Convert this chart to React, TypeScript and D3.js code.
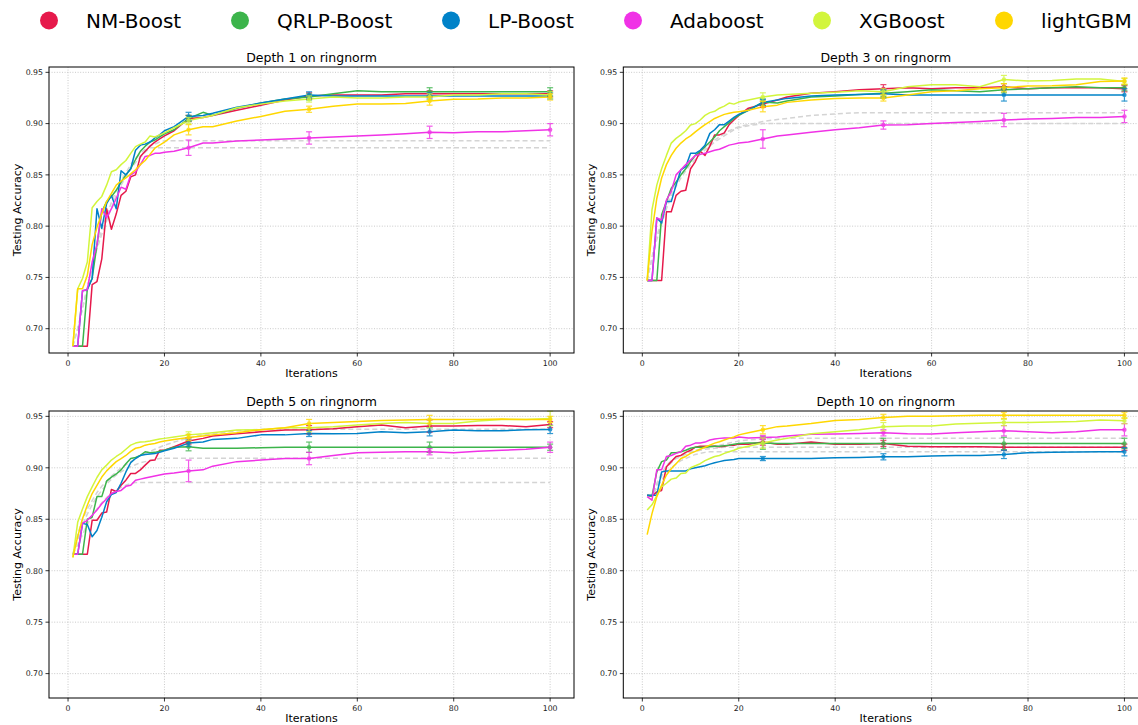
import React from 'react';
import * as d3 from 'd3';

const W = 1138;
const H = 725;
const FONT = 'DejaVu Sans, Verdana, sans-serif';

const METHODS = ['NM-Boost', 'QRLP-Boost', 'LP-Boost', 'Adaboost', 'XGBoost', 'lightGBM'];
const COLORS = ['#e6194b', '#3cb44b', '#0082c8', '#f032e6', '#d2f53c', '#ffd700'];
const LEGEND_X = [49, 240, 451, 633, 822, 1004];

const X_TICKS = [0, 20, 40, 60, 80, 100];
const Y_TICKS = [0.7, 0.75, 0.8, 0.85, 0.9, 0.95];
const ERR_X = [25, 50, 75, 100];

const ITERS = [1, 2, 3, 4, 5, 6, 7, 8, 9, 10, 11, 12, 13, 14, 15, 16, 17, 18, 19, 20, 22, 25, 28, 30, 35, 40, 45, 50, 55, 60, 65, 70, 75, 80, 85, 90, 95, 100];

// ---- Depth 1 ----
const NM1 = [.683, .683, .683, .683, .743, .746, .768, .817, .797, .812, .830, .834, .848, .850, .868, .873, .878, .882, .885, .888, .893, .905, .906, .908, .913, .918, .923, .927, .928, .928, .928, .929, .929, .929, .929, .929, .929, .929];
const QR1 = [.683, .683, .683, .739, .749, .782, .814, .824, .829, .835, .843, .850, .856, .865, .873, .878, .882, .884, .887, .890, .894, .905, .911, .908, .915, .920, .924, .926, .929, .932, .931, .931, .931, .931, .931, .931, .931, .931];
const LP1 = [.683, .683, .737, .738, .749, .817, .798, .822, .830, .817, .854, .850, .856, .874, .879, .880, .882, .886, .889, .893, .897, .907, .908, .910, .916, .920, .924, .928, .927, .927, .927, .927, .927, .927, .927, .927, .927, .927];
const AD1 = [.683, .683, .737, .738, .765, .782, .817, .808, .817, .827, .838, .836, .850, .853, .860, .868, .869, .871, .871, .872, .873, .8765, .881, .881, .883, .884, .885, .886, .887, .888, .889, .890, .8915, .891, .892, .892, .893, .894];
const XG1 = [.683, .739, .749, .765, .818, .824, .829, .840, .853, .855, .860, .864, .871, .8775, .880, .882, .888, .887, .889, .891, .896, .903, .906, .908, .9155, .919, .922, .924, .926, .925, .925, .926, .926, .928, .928, .929, .929, .928];
const LG1 = [.683, .739, .739, .752, .782, .799, .812, .824, .832, .840, .844, .847, .851, .855, .860, .864, .870, .876, .879, .882, .889, .894, .897, .897, .9025, .907, .912, .914, .917, .919, .919, .9195, .922, .9237, .924, .925, .925, .926];
const G1A_X = [1, 2, 3, 4, 5, 6, 7, 8, 9, 10, 11, 12, 13, 14, 15, 16, 17, 18, 19, 20, 100];
const G1A = [.683, .700, .720, .740, .760, .780, .797, .810, .823, .835, .845, .852, .860, .866, .871, .875, .878, .880, .882, .8834, .8834];
const G1B_X = [1, 2, 3, 4, 5, 6, 7, 8, 9, 10, 11, 12, 13, 14, 15, 16, 17, 100];
const G1B = [.683, .700, .720, .740, .760, .778, .792, .805, .818, .830, .840, .848, .856, .862, .867, .872, .8765, .8765];
const E1 = [[.003, .003, .003, .003], [.003, .003, .004, .004], [.004, .003, .003, .003], [.0075, .006, .006, .006], [.003, .003, .003, .003], [.005, .003, .004, .003]];

// ---- Depth 3 ----
const NM2 = [.747, .747, .747, .747, .814, .814, .830, .834, .835, .856, .863, .873, .869, .878, .889, .889, .891, .899, .9035, .908, .915, .919, .923, .926, .9295, .931, .933, .934, .935, .934, .935, .935, .936, .934, .935, .935, .935, .934];
const QR2 = [.747, .747, .747, .811, .824, .837, .843, .850, .856, .863, .869, .873, .8775, .882, .887, .893, .897, .901, .905, .908, .913, .921, .920, .922, .926, .927, .9285, .9295, .931, .933, .932, .931, .933, .934, .935, .936, .935, .935];
const LP2 = [.747, .747, .808, .803, .824, .824, .840, .855, .858, .871, .871, .874, .879, .8905, .894, .899, .899, .9025, .906, .909, .913, .9207, .923, .9246, .927, .928, .9285, .929, .928, .928, .928, .928, .928, .928, .928, .928, .928, .928];
const AD2 = [.747, .747, .808, .806, .8255, .834, .850, .855, .860, .8645, .869, .870, .871, .8726, .874, .875, .877, .879, .880, .881, .882, .885, .888, .889, .8915, .894, .896, .8986, .899, .900, .901, .902, .9035, .9045, .905, .906, .906, .907];
const XG2 = [.747, .816, .840, .856, .869, .881, .8856, .889, .893, .8986, .900, .9035, .908, .9107, .912, .915, .917, .920, .919, .921, .923, .926, .928, .9285, .9295, .9305, .932, .931, .936, .938, .938, .936, .943, .9415, .942, .9435, .9435, .941];
const LG2 = [.747, .795, .827, .847, .860, .869, .876, .881, .885, .888, .892, .8955, .899, .902, .905, .907, .909, .910, .911, .9116, .913, .9165, .918, .9207, .923, .9246, .925, .925, .928, .931, .932, .934, .935, .9367, .937, .938, .941, .9415];
const G2A_X = [1, 2, 3, 4, 5, 6, 7, 8, 9, 10, 11, 12, 13, 14, 15, 16, 17, 18, 19, 20, 22, 25, 28, 30, 35, 40, 45, 100];
const G2A = [.747, .770, .790, .805, .820, .832, .842, .850, .857, .863, .868, .872, .876, .880, .884, .887, .890, .893, .895, .897, .899, .902, .904, .905, .908, .9095, .9107, .9107];
const G2B_X = [1, 2, 3, 4, 5, 6, 7, 8, 9, 10, 11, 12, 13, 14, 15, 16, 17, 18, 19, 20, 22, 25, 100];
const G2B = [.747, .768, .787, .802, .817, .829, .839, .847, .854, .860, .865, .870, .874, .878, .882, .885, .888, .891, .894, .896, .898, .900, .900];
const E2 = [[.003, .004, .003, .003], [.003, .003, .003, .003], [.003, .004, .006, .006], [.009, .004, .0065, .006], [.004, .003, .004, .003], [.005, .003, .004, .003]];

// ---- Depth 5 ----
const NM3 = [.816, .816, .816, .816, .849, .849, .856, .857, .879, .877, .883, .888, .8945, .8945, .898, .9026, .907, .9075, .917, .917, .9205, .926, .9286, .931, .933, .935, .9367, .937, .938, .940, .9416, .939, .9406, .9406, .941, .941, .940, .942];
const QR3 = [.816, .816, .816, .850, .852, .872, .872, .887, .891, .894, .898, .904, .909, .910, .912, .9156, .9146, .915, .916, .917, .920, .9205, .919, .919, .919, .9195, .920, .920, .920, .920, .920, .920, .920, .920, .920, .920, .920, .920];
const LP3 = [.816, .816, .846, .845, .833, .839, .852, .867, .874, .876, .885, .896, .905, .909, .912, .913, .9135, .914, .915, .9166, .919, .924, .925, .9276, .9286, .932, .932, .9334, .933, .9334, .935, .934, .935, .9367, .936, .936, .937, .9373];
const AD3 = [.816, .816, .846, .849, .854, .859, .865, .870, .875, .877, .878, .882, .883, .888, .889, .890, .891, .892, .893, .894, .895, .897, .898, .9016, .906, .9075, .909, .909, .912, .9146, .915, .9156, .9156, .9146, .916, .917, .918, .920];
const XG3 = [.813, .847, .860, .872, .8815, .8906, .898, .9026, .9075, .911, .914, .918, .922, .924, .925, .9253, .926, .927, .928, .9286, .930, .932, .933, .934, .9367, .937, .939, .939, .940, .9416, .943, .944, .943, .943, .9455, .947, .947, .948];
const LG3 = [.813, .833, .8506, .8636, .875, .883, .891, .897, .9016, .906, .909, .912, .916, .919, .920, .922, .923, .9237, .925, .926, .9276, .9295, .931, .932, .934, .937, .939, .943, .944, .945, .946, .9464, .947, .947, .947, .9474, .947, .947];
const G3A_X = [1, 2, 3, 4, 5, 6, 7, 8, 9, 10, 11, 12, 13, 14, 100];
const G3A = [.816, .825, .835, .845, .853, .860, .866, .871, .875, .878, .881, .883, .885, .8857, .8857];
const G3B_X = [1, 2, 3, 4, 5, 6, 7, 8, 9, 10, 11, 12, 13, 14, 15, 16, 17, 18, 19, 20, 100];
const G3B = [.816, .830, .845, .855, .864, .872, .878, .884, .889, .893, .896, .899, .901, .903, .905, .906, .907, .908, .909, .9094, .9094];
const G3C_X = [1, 2, 3, 4, 5, 6, 7, 8, 9, 10, 11, 12, 13, 14, 15, 16, 17, 18, 19, 20, 22, 25, 28, 30, 35, 40, 100];
const G3C = [.816, .835, .850, .860, .868, .876, .882, .887, .892, .896, .900, .903, .906, .909, .912, .914, .916, .918, .920, .922, .925, .929, .932, .933, .936, .9375, .9375];
const E3 = [[.003, .004, .006, .003], [.004, .005, .005, .003], [.003, .003, .004, .004], [.0105, .006, .003, .005], [.003, .004, .004, .007], [.003, .004, .004, .003]];

// ---- Depth 10 ----
const NM4 = [.8734, .8724, .8766, .878, .901, .906, .911, .912, .915, .917, .920, .921, .921, .921, .921, .9205, .921, .922, .922, .923, .923, .925, .923, .923, .925, .923, .923, .9237, .921, .9205, .9205, .9205, .920, .920, .920, .920, .920, .920];
const QR4 = [.8734, .8724, .896, .906, .9075, .9146, .9146, .9156, .917, .919, .920, .920, .920, .9205, .921, .921, .9215, .922, .923, .9237, .924, .924, .9237, .9237, .9237, .9237, .9237, .9237, .9237, .9237, .9237, .9237, .9237, .9237, .9237, .9237, .9237, .9237];
const LP4 = [.8734, .8734, .8734, .896, .897, .897, .897, .897, .897, .899, .900, .901, .902, .9036, .905, .906, .907, .9075, .908, .909, .909, .909, .909, .909, .909, .9097, .910, .9107, .9107, .9114, .912, .912, .913, .9146, .915, .9153, .9155, .9156];
const AD4 = [.872, .8685, .898, .898, .911, .912, .914, .9156, .921, .922, .924, .924, .925, .927, .928, .9286, .929, .929, .929, .930, .929, .9295, .930, .931, .9325, .9328, .9334, .934, .933, .9328, .934, .935, .936, .935, .934, .935, .937, .937];
const XG4 = [.859, .864, .873, .8815, .885, .889, .890, .8945, .895, .900, .902, .904, .907, .909, .911, .912, .914, .9156, .917, .919, .921, .924, .927, .9286, .933, .935, .937, .940, .9406, .9406, .9425, .9432, .944, .944, .9445, .945, .9464, .9458];
const LG4 = [.835, .8555, .872, .883, .893, .899, .904, .909, .911, .914, .916, .918, .920, .922, .924, .9253, .927, .9286, .930, .932, .934, .937, .940, .9406, .943, .946, .947, .949, .950, .950, .9505, .951, .951, .951, .951, .951, .951, .951];
const G4A_X = [1, 2, 3, 4, 5, 6, 7, 8, 9, 10, 11, 12, 13, 14, 15, 16, 17, 18, 19, 20, 22, 25, 28, 100];
const G4A = [.873, .873, .885, .895, .902, .907, .910, .912, .914, .916, .917, .918, .919, .920, .921, .922, .923, .924, .925, .926, .927, .928, .9286, .9286];
const G4B_X = [1, 2, 3, 4, 5, 6, 7, 8, 9, 10, 11, 12, 13, 14, 15, 16, 17, 100];
const G4B = [.873, .873, .883, .892, .900, .905, .909, .911, .913, .915, .916, .917, .918, .9185, .919, .9195, .920, .920];
const G4C_X = [1, 2, 3, 4, 5, 6, 7, 8, 9, 10, 11, 12, 13, 14, 100];
const G4C = [.873, .873, .880, .888, .895, .900, .904, .907, .909, .911, .913, .914, .915, .9156, .9156];
const E4 = [[.003, .003, .003, .003], [.006, .005, .006, .005], [.002, .003, .004, .004], [.002, .003, .005, .006], [.005, .004, .003, .003], [.004, .003, .003, .003]];

const TITLES = ['Depth 1 on ringnorm', 'Depth 3 on ringnorm', 'Depth 5 on ringnorm', 'Depth 10 on ringnorm'];
const SERIES = [
  [NM1, QR1, LP1, AD1, XG1, LG1],
  [NM2, QR2, LP2, AD2, XG2, LG2],
  [NM3, QR3, LP3, AD3, XG3, LG3],
  [NM4, QR4, LP4, AD4, XG4, LG4],
];
const GRAYS = [
  [[G1A_X, G1A], [G1B_X, G1B]],
  [[G2A_X, G2A], [G2B_X, G2B]],
  [[G3A_X, G3A], [G3B_X, G3B], [G3C_X, G3C]],
  [[G4A_X, G4A], [G4B_X, G4B], [G4C_X, G4C]],
];
const ERRS = [E1, E2, E3, E4];

// layout
const PW = 525;
const LAYOUT = [
  { left: 49, top: 67, h: 286 },
  { left: 623.3, top: 67, h: 286 },
  { left: 49, top: 411, h: 287 },
  { left: 623.3, top: 411, h: 287 },
];

function Panel({ idx }: { idx: number }) {
  const { left, top, h } = LAYOUT[idx];
  const x = d3.scaleLinear().domain([-3.95, 104.95]).range([left, left + PW]);
  const y = d3.scaleLinear().domain([0.6763, 0.9552]).range([top + h, top]);
  const line = d3.line<[number, number]>().x((d) => x(d[0])).y((d) => y(d[1]));
  const series = SERIES[idx];
  const grays = GRAYS[idx];
  const errs = ERRS[idx];
  const cx = left + PW / 2;
  return (
    <g>
      {X_TICKS.map((t) => (
        <line key={'gx' + t} x1={x(t)} x2={x(t)} y1={top} y2={top + h} stroke="#bcbcbc" strokeWidth={0.8} strokeDasharray="1,1.6" />
      ))}
      {Y_TICKS.map((t) => (
        <line key={'gy' + t} x1={left} x2={left + PW} y1={y(t)} y2={y(t)} stroke="#bcbcbc" strokeWidth={0.8} strokeDasharray="1,1.6" />
      ))}
      {grays.map(([gx, gy], i) => (
        <path key={'g' + i} d={line(gx.map((v, j) => [v, gy[j]]) as [number, number][]) || ''} fill="none" stroke="#d4d4d4" strokeWidth={1.5} strokeDasharray="5,3" />
      ))}
      {series.map((s, si) => (
        <path key={'s' + si} d={line(ITERS.map((v, j) => [v, s[j]]) as [number, number][]) || ''} fill="none" stroke={COLORS[si]} strokeWidth={1.5} strokeLinejoin="round" />
      ))}
      {series.map((s, si) => (
        <g key={'e' + si} stroke={COLORS[si]} fill={COLORS[si]} opacity={0.8}>
          {ERR_X.map((ex, k) => {
            const v = s[ITERS.indexOf(ex)];
            const e = errs[si][k];
            const px = x(ex);
            return (
              <g key={k}>
                <line x1={px} x2={px} y1={y(v - e)} y2={y(v + e)} strokeWidth={1.2} />
                <line x1={px - 3} x2={px + 3} y1={y(v - e)} y2={y(v - e)} strokeWidth={1.2} />
                <line x1={px - 3} x2={px + 3} y1={y(v + e)} y2={y(v + e)} strokeWidth={1.2} />
                <circle cx={px} cy={y(v)} r={2.2} stroke="none" />
              </g>
            );
          })}
        </g>
      ))}
      <rect x={left} y={top} width={PW} height={h} fill="none" stroke="#000" strokeWidth={1} />
      {X_TICKS.map((t) => (
        <g key={'tx' + t}>
          <line x1={x(t)} x2={x(t)} y1={top + h} y2={top + h + 3.5} stroke="#000" strokeWidth={0.8} />
          <text x={x(t)} y={top + h + 13} textAnchor="middle" fontSize={7.8} fontFamily={FONT} fill="#222">{t}</text>
        </g>
      ))}
      {Y_TICKS.map((t) => (
        <g key={'ty' + t}>
          <line x1={left - 3.5} x2={left} y1={y(t)} y2={y(t)} stroke="#000" strokeWidth={0.8} />
          <text x={left - 6} y={y(t) + 2.8} textAnchor="end" fontSize={7.8} fontFamily={FONT} fill="#222">{d3.format('.2f')(t)}</text>
        </g>
      ))}
      <text x={cx} y={top - 5.5} textAnchor="middle" fontSize={12.5} fontFamily={FONT} fill="#000">{TITLES[idx]}</text>
      <text x={cx} y={top + h + 24} textAnchor="middle" fontSize={11} fontFamily={FONT} fill="#000">Iterations</text>
      <text transform={`translate(${left - 28},${top + h / 2}) rotate(-90)`} textAnchor="middle" fontSize={11} fontFamily={FONT} fill="#000">Testing Accuracy</text>
    </g>
  );
}

export default function App() {
  return (
    <svg width={W} height={H} viewBox={`0 0 ${W} ${H}`} style={{ position: 'absolute', left: 0, top: 0, background: '#fff' }}>
      <rect x={0} y={0} width={W} height={H} fill="#fff" />
      {METHODS.map((m, i) => (
        <g key={m}>
          <circle cx={LEGEND_X[i]} cy={20.5} r={9} fill={COLORS[i]} />
          <text x={LEGEND_X[i] + 37} y={27.5} fontSize={20} fontFamily={FONT} fill="#000">{m}</text>
        </g>
      ))}
      {[0, 1, 2, 3].map((i) => (
        <Panel key={i} idx={i} />
      ))}
    </svg>
  );
}
